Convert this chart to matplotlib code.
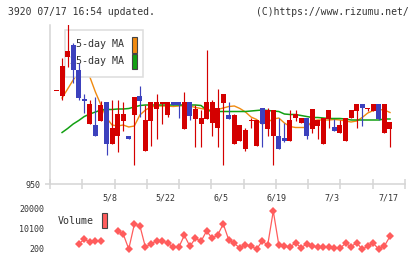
import numpy as np
import matplotlib
matplotlib.use("Agg")
import matplotlib.pyplot as plt
from matplotlib.patches import Rectangle
from matplotlib.transforms import ScaledTranslation

# daily candles (one slot per weekday)
opens  = [1136, 1127, 1205, 1228, 1179, 1120, 1071, 1068, 1077, 1114,
          1031, 1047, 1077, 1046, 1089, 1127, 1017, 1077, 1101, 1111,
          1088, 1114, 1114, 1060, 1114, 1080, 1070, 1080, 1073, 1063,
          1113, 1088, 1031, 1037, 1021, 1077, 1026, 1103, 1061, 1047,
          1047, 1042, 1037, 1083, 1073, 1083, 1060, 1067, 1031, 1080,
          1064, 1053, 1037, 1082, 1097, 1110, 1101, 1097, 1110, 1053,
          1060]
highs  = [1136, 1203, 1270, 1233, 1192, 1130, 1118, 1125, 1116, 1114,
          1118, 1118, 1114, 1046, 1124, 1146, 1108, 1114, 1130, 1114,
          1114, 1114, 1114, 1134, 1114, 1108, 1098, 1218, 1118, 1140,
          1130, 1114, 1090, 1068, 1063, 1083, 1078, 1103, 1103, 1098,
          1083, 1073, 1098, 1098, 1083, 1083, 1100, 1078, 1082, 1098,
          1081, 1078, 1082, 1098, 1110, 1110, 1103, 1110, 1110, 1110,
          1074]
lows   = [1136, 1118, 1185, 1153, 1118, 1093, 1071, 1047, 1077, 1008,
          1031, 1015, 1057, 1041, 989, 1085, 1017, 1026, 1040, 1071,
          1085, 1109, 1082, 1060, 1078, 1025, 1025, 1080, 1047, 1025,
          989, 1081, 1031, 1037, 1017, 1063, 1026, 1025, 1047, 989,
          1021, 1035, 1037, 1077, 1073, 1041, 1053, 1040, 1031, 1063,
          1057, 1053, 1037, 1082, 1063, 1066, 1097, 1097, 1078, 1053,
          1025]
closes = [1136, 1186, 1216, 1179, 1123, 1117, 1110, 1047, 1108, 1031,
          1063, 1090, 1090, 1041, 1124, 1117, 1078, 1114, 1114, 1114,
          1114, 1109, 1109, 1114, 1086, 1100, 1082, 1114, 1114, 1103,
          1130, 1081, 1088, 1068, 1058, 1078, 1078, 1071, 1098, 1098,
          1021, 1037, 1078, 1090, 1083, 1047, 1100, 1078, 1082, 1098,
          1057, 1068, 1082, 1098, 1110, 1102, 1103, 1110, 1080, 1110,
          1074]

ma5 = [np.nan, 1122, 1140, 1158, 1174, 1178, 1164, 1134, 1108, 1082,
       1068, 1066, 1068, 1064, 1066, 1088, 1098, 1104, 1106, 1106,
       1106, 1105, 1106, 1107, 1106, 1103, 1101, 1099, 1098, 1099,
       1102, 1105, 1106, 1101, 1094, 1084, 1079, 1070, 1074, 1080,
       1082, 1072, 1065, 1063, 1063, 1063, 1076, 1078, 1078, 1078,
       1079, 1078, 1076, 1074, 1076, 1083, 1092, 1097, 1099, 1098,
       1093]
ma25 = [np.nan, 1053, 1061, 1070, 1077, 1085, 1090, 1094, 1098, 1099,
        1099, 1100, 1100, 1101, 1104, 1107, 1108, 1108, 1108, 1108,
        1108, 1108, 1108, 1108, 1108, 1108, 1107, 1098, 1095, 1095,
        1095, 1095, 1095, 1095, 1095, 1096, 1097, 1098, 1097, 1096,
        1095, 1090, 1089, 1089, 1087, 1085, 1083, 1083, 1082, 1081,
        1081, 1081, 1080, 1078, 1078, 1078, 1078, 1078, 1078, 1080,
        1080]

volume = [np.nan, np.nan, np.nan, np.nan, 2675, 5000, 3665, 4160, 4160, np.nan,
          np.nan, 9110, 7625, 200, 12400, 11730, 1040, 2825, 4160, 4160,
          3170, 1040, 1040, 6980, 1540, 5500, 4010, 9110, 5500, 7130,
          12575, 4655, 3020, 540, 2180, 1685, 50, 4160, 2180, 19010,
          2180, 1685, 1040, 3320, 850, 2675, 1835, 1040, 1340, 1340,
          540, 540, 3020, 1340, 3320, 50, 1685, 3020, 50, 1685,
          6490]

date_labels = ["5/8", "5/22", "6/5", "6/19", "7/3", "7/17"]
date_slots = [10, 20, 30, 40, 50, 60]

W, H = 420, 259
def fx(x):
    return x / W
def fy(y):
    return 1 - y / H

red, blue = "#d40000", "#3c41bd"
orange, green = "#f08a10", "#12a012"
volc = "#ff5c5c"
axcol = "#d5d5d5"
txt = "#333333"
mono = "DejaVu Sans Mono"

fig = plt.figure(figsize=(4.2, 2.59), dpi=100)
ax = fig.add_axes([fx(50), fy(184), fx(405) - fx(50), (184 - 25) / H])
vax = fig.add_axes([fx(50), fy(252), fx(405) - fx(50), (252 - 205) / H])

idx = np.arange(len(opens))
o = np.array(opens, float)
c = np.array(closes, float)
up = c >= o
cols = np.where(up, red, blue)

# MA lines
ax.plot(idx, ma5, color=orange, lw=1.0, zorder=1)
ax.plot(idx, ma25, color=green, lw=1.1, zorder=1)

# candles
ax.vlines(idx, lows, highs, colors=cols, lw=0.85, zorder=3)
body_h = np.maximum(np.abs(c - o), 1.5)
ax.bar(idx, body_h, bottom=np.minimum(o, c), width=0.9, color=cols,
       linewidth=0, zorder=3)

xmin, xmax = -1.17, 62.7
ax.set_xlim(xmin, xmax)
ax.set_ylim(950, 1268)
ax.set_facecolor("none")
for s in ["top", "right"]:
    ax.spines[s].set_visible(False)
for s in ["left", "bottom"]:
    ax.spines[s].set_color(axcol)
    ax.spines[s].set_linewidth(1.1)

ax.set_yticks([950])
ax.set_yticklabels(["950"], fontsize=6, family=mono, color=txt)
ax.tick_params(axis="y", direction="out", length=3.6, width=1.1, color=axcol, pad=3)

ax.set_xticks(np.linspace(xmin, xmax, 12))
ax.set_xticklabels([])
ax.tick_params(axis="x", which="major", direction="inout", length=6.5,
               width=1.1, color=axcol)
ax.set_xticks(date_slots, minor=True)
ax.set_xticklabels(date_labels, minor=True, fontsize=6, family=mono, color=txt)
ax.tick_params(axis="x", which="minor", length=0, pad=7)
for lab in ax.xaxis.get_minorticklabels():
    lab.set_transform(lab.get_transform() + ScaledTranslation(-2 / 100, 0, fig.dpi_scale_trans))

# legend box inside chart
ax.add_patch(Rectangle((fx(65), fy(77)), fx(143) - fx(65), (77 - 30) / H,
                       transform=fig.transFigure, facecolor="white",
                       edgecolor="#dddddd", lw=1.1, zorder=2))
ax.text(fx(124), fy(44), "5-day MA", transform=fig.transFigure, ha="right",
        va="center", fontsize=7.2, family=mono, color=txt, zorder=2.5)
ax.text(fx(124), fy(61.5), "25-day MA", transform=fig.transFigure, ha="right",
        va="center", fontsize=7.2, family=mono, color=txt, zorder=2.5)
ax.add_patch(Rectangle((fx(131.7), fy(52.7)), fx(5.6), 15.4 / H,
                       transform=fig.transFigure, facecolor=orange,
                       edgecolor="#444444", lw=0.8, zorder=2.5))
ax.add_patch(Rectangle((fx(131.7), fy(69.3)), fx(5.6), 15 / H,
                       transform=fig.transFigure, facecolor=green,
                       edgecolor="#444444", lw=0.8, zorder=2.5))

# volume panel
vax.plot(idx, volume, color=volc, lw=0.9, marker="D", ms=4.3,
         markeredgewidth=0, clip_on=False)
vax.set_xlim(xmin, xmax)
vax.set_ylim(-1285, 21980)
vax.set_facecolor("none")
for s in vax.spines.values():
    s.set_visible(False)
vax.set_xticks([])
vax.set_yticks([200, 10100, 20000])
vax.set_yticklabels(["200", "10100", "20000"], fontsize=6, family=mono, color=txt)
vax.tick_params(axis="y", length=0, pad=4.3)

fig.text(fx(58), fy(221.5), "Volume", ha="left", va="center", fontsize=7.2,
         family=mono, color=txt)
fig.add_artist(Rectangle((fx(101.7), fy(228.3)), fx(5.6), 15 / H,
                         transform=fig.transFigure, facecolor=volc,
                         edgecolor="#444444", lw=0.8))

fig.text(fx(8), fy(12), "3920 07/17 16:54 updated.", ha="left", va="center",
         fontsize=7.0, family=mono, color=txt)
fig.text(fx(409), fy(12), "(C)https://www.rizumu.net/", ha="right", va="center",
         fontsize=7.0, family=mono, color=txt)

fig.savefig("out.png", dpi=100)
